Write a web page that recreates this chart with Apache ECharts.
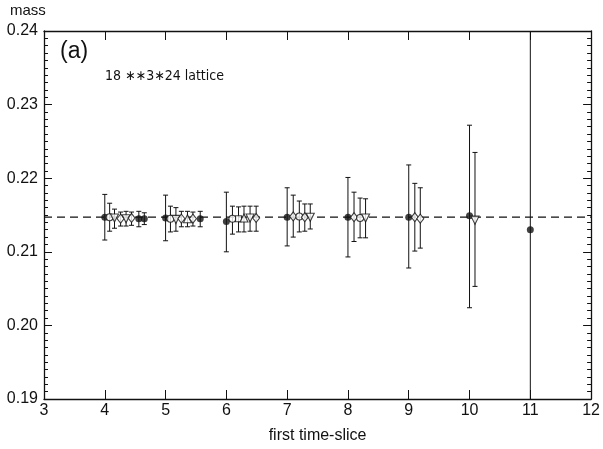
<!DOCTYPE html>
<html>
<head>
<meta charset="utf-8">
<script src="https://cdn.jsdelivr.net/npm/echarts@6/dist/echarts.min.js"></script>
<style>html,body{margin:0;padding:0;background:#fff}#c{width:603px;height:449px}</style>
</head>
<body>
<div id="c"></div>
<script>
// ---- data ----
const xTicks = [3, 4, 5, 6, 7, 8, 9, 10, 11, 12];
const yTicks = ['0.19', '0.20', '0.21', '0.22', '0.23', '0.24'];
const fitMass = 0.2147;

const xPos = [
  4.00, 4.08, 4.16, 4.26, 4.35, 4.44, 4.56, 4.65,
  5.00, 5.08, 5.17, 5.26, 5.36, 5.45, 5.57,
  6.00, 6.10, 6.20, 6.29, 6.39, 6.49,
  7.00, 7.10, 7.20, 7.29, 7.38,
  8.00, 8.10, 8.20, 8.29,
  9.00, 9.10, 9.19,
  10.00, 10.09,
  11.00
];
const massVal = [
  0.2147, 0.2147, 0.2146, 0.2145, 0.2145, 0.2146, 0.2145, 0.2145,
  0.2146, 0.2145, 0.2144, 0.2145, 0.2145, 0.2145, 0.2145,
  0.2141, 0.2145, 0.2145, 0.2146, 0.2146, 0.2146,
  0.2147, 0.2148, 0.2148, 0.2147, 0.2147,
  0.2147, 0.2147, 0.2146, 0.2146,
  0.2147, 0.2147, 0.2145,
  0.2149, 0.2143,
  0.2130
];
const errLow = [
  0.2116, 0.2128, 0.2132, 0.2135, 0.2135, 0.2136, 0.2134, 0.2137,
  0.2115, 0.2127, 0.2128, 0.2134, 0.2134, 0.2135, 0.2134,
  0.2100, 0.2124, 0.2127, 0.2127, 0.2128, 0.2128,
  0.2108, 0.2120, 0.2127, 0.2128, 0.2131,
  0.2093, 0.2114, 0.2119, 0.2119,
  0.2078, 0.2101, 0.2105,
  0.2024, 0.2053,
  0.1700
];
const errHigh = [
  0.2178, 0.2166, 0.2158, 0.2154, 0.2155, 0.2154, 0.2155, 0.2153,
  0.2177, 0.2162, 0.2160, 0.2155, 0.2155, 0.2154, 0.2155,
  0.2181, 0.2162, 0.2161, 0.2162, 0.2162, 0.2162,
  0.2187, 0.2177, 0.2169, 0.2165, 0.2165,
  0.2201, 0.2181, 0.2173, 0.2172,
  0.2218, 0.2193, 0.2187,
  0.2272, 0.2235,
  0.2600
];
// F filled circle, O open circle, V open triangle down, T open triangle up, D open diamond, S open square
const markerKind = [
  'F', 'O', 'V', 'D', 'V', 'D', 'F', 'F',
  'F', 'O', 'V', 'D', 'T', 'D', 'F',
  'F', 'O', 'S', 'T', 'V', 'D',
  'F', 'D', 'O', 'D', 'V',
  'F', 'D', 'O', 'V',
  'F', 'D', 'D',
  'F', 'V',
  'F'
];

// ---- chart ----
const FONT = 'Liberation Sans';
const INK = '#111';

function markerItem(i) {
  const k = markerKind[i];
  const v = [xPos[i], massVal[i]];
  if (k === 'F') return { value: v, symbol: 'circle', symbolSize: 7, itemStyle: { color: INK, borderWidth: 0 } };
  const open = { color: '#fff', borderColor: INK, borderWidth: 1.1 };
  if (k === 'O') return { value: v, symbol: 'circle', symbolSize: 7, itemStyle: open };
  if (k === 'D') return { value: v, symbol: 'diamond', symbolSize: [7, 9], itemStyle: open };
  if (k === 'S') return { value: v, symbol: 'rect', symbolSize: 6, itemStyle: open };
  if (k === 'T') return { value: v, symbol: 'triangle', symbolSize: 8, itemStyle: open };
  return { value: v, symbol: 'triangle', symbolRotate: 180, symbolSize: 8, itemStyle: open };
}

const barData = xPos.map((x, i) => [x, errLow[i], errHigh[i]]);
const pointData = xPos.map((x, i) => markerItem(i));

const axisLineStyle = { lineStyle: { color: INK, width: 1.3 } };

const option = {
  backgroundColor: '#fff',
  animation: false,
  grid: { left: 44, right: 3, top: 31, bottom: 48 },
  xAxis: [
    {
      type: 'value', min: 3, max: 12, interval: 1, position: 'bottom',
      axisLine: axisLineStyle,
      axisTick: { show: true, inside: true, length: 9, lineStyle: { color: INK, width: 1 } },
      axisLabel: { color: INK, fontFamily: FONT, fontSize: 16, margin: 4,
        formatter: v => xTicks.includes(v) ? String(v) : '' },
      splitLine: { show: false },
      name: 'first time-slice', nameLocation: 'middle', nameGap: 29,
      nameTextStyle: { color: INK, fontFamily: FONT, fontSize: 16 }
    },
    {
      type: 'value', min: 3, max: 12, interval: 1, position: 'top',
      axisLine: axisLineStyle,
      axisTick: { show: true, inside: true, length: 9, lineStyle: { color: INK, width: 1 } },
      axisLabel: { show: false }, splitLine: { show: false }
    }
  ],
  yAxis: [
    {
      type: 'value', min: 0.19, max: 0.24, interval: 0.01, position: 'left',
      axisLine: axisLineStyle,
      axisTick: { show: true, inside: true, length: 8, lineStyle: { color: INK, width: 1 } },
      minorTick: { show: true, splitNumber: 10, length: 4, lineStyle: { color: INK, width: 1 } },
      axisLabel: { color: INK, fontFamily: FONT, fontSize: 16, margin: 6,
        formatter: v => yTicks[Math.round((v - 0.19) * 100)] || '' },
      splitLine: { show: false }
    },
    {
      type: 'value', min: 0.19, max: 0.24, interval: 0.01, position: 'right',
      axisLine: axisLineStyle,
      axisTick: { show: true, inside: true, length: 8, lineStyle: { color: INK, width: 1 } },
      minorTick: { show: true, splitNumber: 10, length: 4, lineStyle: { color: INK, width: 1 } },
      axisLabel: { show: false }, splitLine: { show: false }
    }
  ],
  graphic: [
    { type: 'text', left: 10, top: 3, style: { text: 'mass', fill: INK, font: '15px "Liberation Sans"' } },
    { type: 'text', left: 60, top: 40, style: { text: '(a)', fill: INK, font: '23px "Liberation Sans"' } },
    { type: 'text', left: 105, top: 69, style: { text: '18 \u2217\u22173\u221724 lattice', fill: INK, font: '14px "DejaVu Sans Condensed", "DejaVu Sans"' } }
  ],
  series: [
    {
      type: 'line', xAxisIndex: 0, yAxisIndex: 0, silent: true, symbol: 'none', z: 1,
      data: [[3, fitMass], [12, fitMass]],
      lineStyle: { color: INK, width: 1.2, type: [8, 5] }
    },
    {
      type: 'custom', xAxisIndex: 0, yAxisIndex: 0, clip: true, z: 2,
      data: barData,
      renderItem: function (params, api) {
        const x = api.value(0);
        const pLo = api.coord([x, api.value(1)]);
        const pHi = api.coord([x, api.value(2)]);
        const cap = 2.5;
        const st = { stroke: INK, lineWidth: 1 };
        return {
          type: 'group',
          children: [
            { type: 'line', shape: { x1: pLo[0], y1: pLo[1], x2: pHi[0], y2: pHi[1] }, style: st },
            { type: 'line', shape: { x1: pLo[0] - cap, y1: pLo[1], x2: pLo[0] + cap, y2: pLo[1] }, style: st },
            { type: 'line', shape: { x1: pHi[0] - cap, y1: pHi[1], x2: pHi[0] + cap, y2: pHi[1] }, style: st }
          ]
        };
      }
    },
    {
      type: 'scatter', xAxisIndex: 0, yAxisIndex: 0, z: 3,
      data: pointData
    }
  ]
};

const chart = echarts.init(document.getElementById('c'), null, { renderer: 'canvas' });
chart.setOption(option);
</script>
</body>
</html>
